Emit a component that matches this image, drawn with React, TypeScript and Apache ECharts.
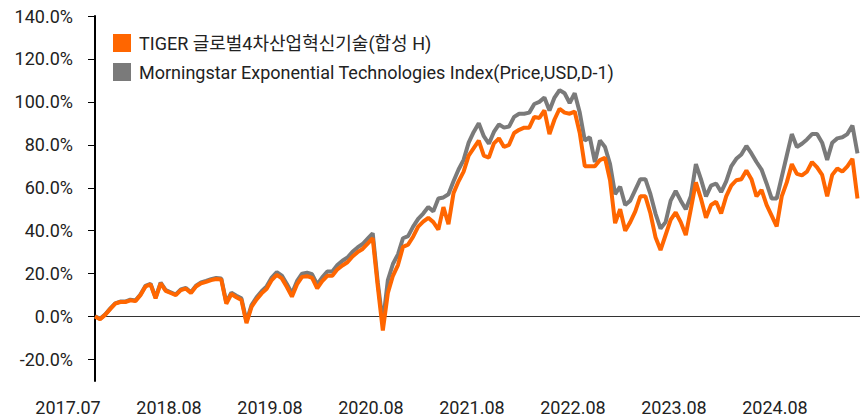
import React, { useEffect, useRef } from 'react';
import * as echarts from 'echarts';

const xLabels = ['2017.07', '2018.08', '2019.08', '2020.08', '2021.08', '2022.08', '2023.08', '2024.08'];
const xLabelIdx = [0, 20, 40, 60, 80, 100, 120, 140];
const yTicks = [-20, 0, 20, 40, 60, 80, 100, 120, 140];
const tigerName = 'TIGER 글로벌4차산업혁신기술(합성 H)';
const indexName = 'Morningstar Exponential Technologies Index(Price,USD,D-1)';

const tiger = [
  0, -1.2, 0.8, 3.5, 6, 6.8, 6.8, 7.6, 7.2, 10,
  14, 15, 8.5, 15.5, 12, 11, 10, 12.3, 13, 11,
  14, 15.5, 16.2, 17, 17.5, 17.3, 6, 10.5, 9, 7.7,
  -3, 4.5, 8, 10.8, 13, 17, 19.4, 17.8, 13.8, 9.3,
  15, 18.5, 18.8, 18, 13.2, 16.5, 19, 19, 22, 23.8,
  25.3, 28, 30, 31.5, 34, 36.5, 14, -6.5, 11, 19,
  24, 32.5, 33.5, 37.2, 41.9, 44.2, 46, 44, 40.5, 51,
  43, 57.5, 63, 67.5, 75, 78.5, 82, 75, 74, 80.7,
  83, 79, 80, 85.5, 87, 88, 88, 93, 92.5, 96,
  85, 91.8, 96.8, 95, 94.5, 95.5, 85.5, 70, 70, 70,
  72.9, 74, 63.5, 43.5, 50, 40, 44, 49, 56, 56,
  48, 37, 31, 38, 45, 48.5, 44, 38, 50, 62.5,
  55, 46, 52, 53.5, 48, 56, 61, 63.5, 64, 68,
  64, 56, 59, 52, 47, 42, 56, 62.5, 71, 66.5,
  65.8, 67.5, 72, 69.5, 66, 56, 66, 69, 67.5, 70,
  73.5, 55,
];

const indexSeries = [
  0.2, -1, 1, 3.7, 6.2, 7, 7, 7.9, 7.5, 10.3,
  14.3, 15.3, 8.8, 15.8, 12.3, 11.3, 10.3, 12.6, 13.3, 11.3,
  14.4, 15.9, 16.6, 17.4, 18, 17.8, 6.6, 11.1, 9.7, 8.5,
  -2.3, 5.4, 9, 11.8, 14.1, 18.2, 20.7, 19.1, 15.2, 10.8,
  16.5, 20, 20.4, 19.7, 15, 18.3, 21, 21, 24, 26,
  27.5, 30.2, 32.2, 33.8, 36.3, 38.8, 16, -3, 17, 24.5,
  29, 36.5, 37.5, 41.9, 45.5, 48, 51, 49, 55, 55.5,
  57, 63, 68.5, 73, 81, 86, 90, 84, 80.5, 86,
  89.5, 88, 88.5, 93, 94.5, 94.5, 95, 99, 100, 102,
  96, 102, 105.5, 104, 99.5, 104, 95, 82, 83.5, 72,
  82, 79, 71, 57, 60.5, 52, 54, 59, 64, 64,
  57, 48, 41, 44, 54, 58.5, 54, 50, 56, 71,
  64, 56, 61, 62, 58, 63, 70, 73.5, 75.5, 79.5,
  76, 72, 68.5, 62, 55, 55, 65, 75, 85, 79,
  80.5, 82.5, 85, 85, 81, 73, 81, 83, 83.5, 85,
  89, 76,
];

const FONT = "Roboto, 'Noto Sans CJK KR', sans-serif";

export default function App() {
  const ref = useRef<HTMLDivElement>(null);
  useEffect(() => {
    document.body.style.margin = '0';
    if (!ref.current) return;
    const chart = echarts.init(ref.current, undefined, { renderer: 'svg' });
    chart.setOption({
      animation: false,
      backgroundColor: '#ffffff',
      grid: { left: 95, right: 0, top: 16, bottom: 37 },
      legend: {
        orient: 'vertical',
        left: 108,
        top: 29,
        icon: 'rect',
        itemWidth: 18,
        itemHeight: 18,
        itemGap: 11,
        data: [tigerName, indexName],
        textStyle: { fontSize: 18, color: '#222', fontFamily: FONT, padding: [0, 0, 0, 3] },
      },
      xAxis: {
        type: 'value',
        min: 0,
        max: 151.5,
        axisLine: { show: false },
        axisTick: { show: false },
        splitLine: { show: false },
        axisLabel: {
          customValues: xLabelIdx,
          formatter: (v: number) => {
            const k = xLabelIdx.indexOf(Math.round(v));
            return k >= 0 ? xLabels[k] : '';
          },
          fontSize: 18,
          color: '#222',
          fontFamily: FONT,
          margin: 17,
          padding: [0, 54, 0, 0],
        },
      },
      yAxis: {
        type: 'value',
        min: -30,
        max: 140,
        axisLine: { show: true, lineStyle: { color: '#000', width: 2 } },
        axisTick: { show: true, length: 7, customValues: yTicks, lineStyle: { color: '#000', width: 1 } },
        splitLine: { show: false },
        axisLabel: {
          customValues: yTicks,
          formatter: (v: number) => v.toFixed(1) + '%',
          fontSize: 18,
          color: '#222',
          fontFamily: FONT,
          margin: 22,
        },
      },
      series: [
        {
          name: indexName,
          type: 'line',
          z: 2,
          showSymbol: false,
          symbol: 'none',
          color: '#7a7a7a',
          lineStyle: { color: '#7a7a7a', width: 4 },
          data: indexSeries.map((v, i) => [i, v]),
          markLine: {
            silent: true,
            symbol: 'none',
            label: { show: false },
            lineStyle: { color: '#333', width: 1, type: 'solid' },
            data: [{ yAxis: 0 }],
            z: 1,
          },
        },
        {
          name: tigerName,
          type: 'line',
          z: 3,
          showSymbol: false,
          symbol: 'none',
          color: '#ff6600',
          lineStyle: { color: '#ff6600', width: 4 },
          data: tiger.map((v, i) => [i, v]),
        },
      ],
    });
    return () => chart.dispose();
  }, []);
  return <div ref={ref} style={{ width: 860, height: 418 }} />;
}
